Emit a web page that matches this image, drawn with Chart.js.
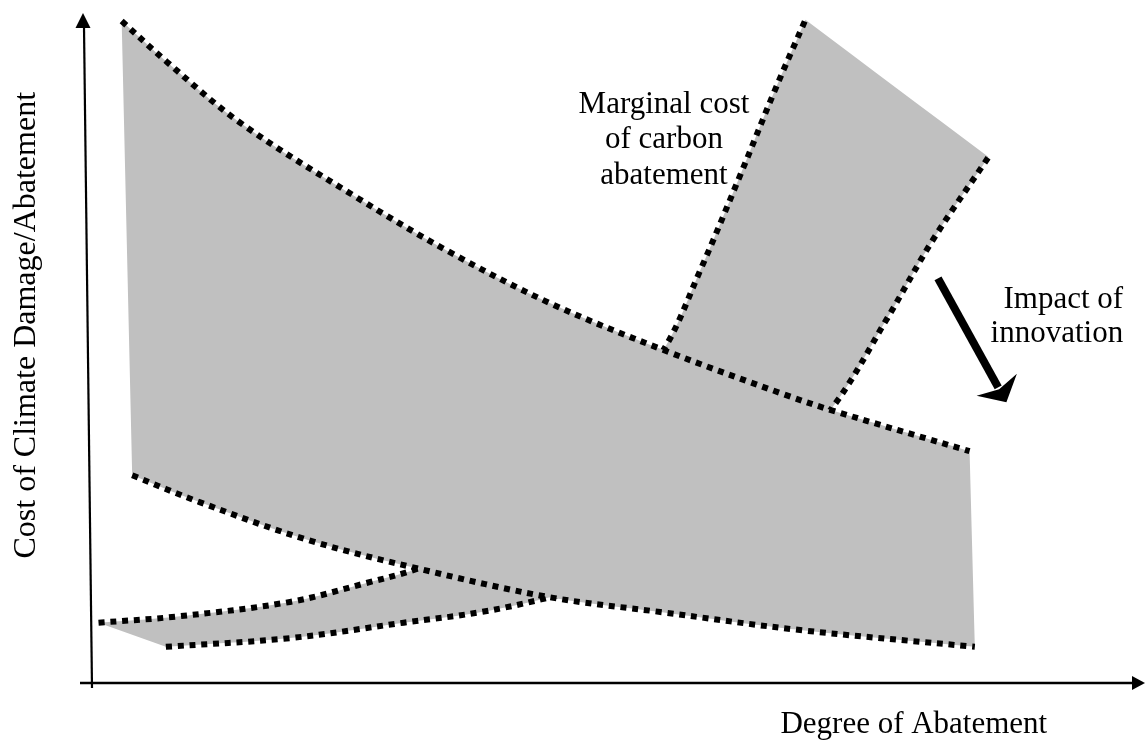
<!DOCTYPE html>
<html>
<head>
<meta charset="utf-8">
<script src="https://cdn.jsdelivr.net/npm/chart.js@4.4.1/dist/chart.umd.min.js"></script>
<style>
  html, body { margin: 0; padding: 0; background: #fff; }
  #wrap { width: 1145px; height: 740px; position: relative; }
</style>
</head>
<body>
<div id="wrap"><canvas id="myChart"></canvas></div>
<script>
// conceptual chart: degree of abatement (x) against cost (y), both in 0..100 units
let damageUpper = [[3.2, 98.8], [7.5, 92.7], [14.4, 83.7], [25.2, 72.8], [34.4, 64.3], [43.9, 56.7], [54.7, 49.7], [66.3, 43.0], [70.7, 40.7], [83.8, 34.6]];
let damageLower = [[4.2, 31.0], [10.6, 27.0], [21.0, 21.3], [31.6, 17.0], [43.9, 12.8], [54.4, 10.6], [67.7, 7.9], [84.3, 5.4]];
let abatementCost = [[1.0, 9.0], [8.3, 9.9], [19.2, 12.1], [26.4, 14.9], [31.6, 17.2], [39.2, 22.1], [46.8, 32.5], [54.7, 49.7], [58.2, 61.6], [62.0, 75.8], [65.3, 88.5], [68.2, 99.0]];
let abatementCostInnovation = [[7.4, 5.4], [19.2, 6.7], [30.0, 9.0], [37.4, 10.6], [43.9, 12.8], [53.4, 16.9], [62.9, 27.3], [70.7, 41.0], [76.0, 54.5], [80.3, 66.1], [85.6, 78.5]];
let innovationShift = [[80.8, 60.4], [87.3, 41.9]];

let xTitle = 'Degree of Abatement';
let yTitle = 'Cost of Climate Damage/Abatement';
let abatementLabel = ['Marginal cost', 'of carbon', 'abatement'];
let innovationLabel = ['Impact of', 'innovation'];

const pts = (arr) => arr.map(([x, y]) => ({x: x, y: y}));

// closed band: upper curve forward, lower curve back (ends doubled so the
// spline matches the open dotted lines)
const band = (a, b) => {
  let p = pts(a), q = pts(b).reverse();
  return p.concat([p[p.length - 1], q[0]], q);
};

const dotted = {
  borderColor: '#000',
  borderWidth: 6,
  borderDash: [6, 5.8],
  borderCapStyle: 'butt',
  fill: false,
  pointRadius: 0,
  tension: 0.35,
  showLine: true
};
const grey = {
  borderColor: 'rgba(0,0,0,0)',
  borderWidth: 0,
  backgroundColor: '#c0c0c0',
  fill: 'shape',
  pointRadius: 0,
  tension: 0.35,
  showLine: true
};

const serif = '"Liberation Serif", "Times New Roman", serif';

const sketch = {
  id: 'sketch',
  afterDraw(chart) {
    const {ctx, chartArea: a, scales: {x, y}} = chart;
    ctx.save();
    ctx.strokeStyle = '#000';
    ctx.fillStyle = '#000';

    // y axis (leans a little, as in the original drawing)
    ctx.lineWidth = 2.2;
    ctx.beginPath();
    ctx.moveTo(a.left + 4, a.bottom + 5);
    ctx.lineTo(a.left - 4, a.top + 14);
    ctx.stroke();
    ctx.beginPath();
    ctx.moveTo(a.left - 5, a.top);
    ctx.lineTo(a.left - 12.5, a.top + 15);
    ctx.lineTo(a.left + 2.5, a.top + 15);
    ctx.closePath();
    ctx.fill();

    // x axis
    ctx.lineWidth = 2.6;
    ctx.beginPath();
    ctx.moveTo(a.left - 8, a.bottom);
    ctx.lineTo(chart.width - 10, a.bottom);
    ctx.stroke();
    ctx.beginPath();
    ctx.moveTo(chart.width, a.bottom);
    ctx.lineTo(chart.width - 13, a.bottom - 7);
    ctx.lineTo(chart.width - 13, a.bottom + 7);
    ctx.closePath();
    ctx.fill();

    // impact of innovation arrow
    let sx = x.getPixelForValue(innovationShift[0][0]), sy = y.getPixelForValue(innovationShift[0][1]);
    let tx = x.getPixelForValue(innovationShift[1][0]), ty = y.getPixelForValue(innovationShift[1][1]);
    let len = Math.hypot(tx - sx, ty - sy);
    let ux = (tx - sx) / len, uy = (ty - sy) / len;
    let head = 20, half = 23;
    ctx.lineWidth = 8;
    ctx.beginPath();
    ctx.moveTo(sx, sy);
    ctx.lineTo(tx - ux * (head - 3), ty - uy * (head - 3));
    ctx.stroke();
    ctx.beginPath();
    ctx.moveTo(tx, ty);
    ctx.lineTo(tx - ux * head - uy * half, ty - uy * head + ux * half);
    ctx.lineTo(tx - ux * (head - 5), ty - uy * (head - 5));
    ctx.lineTo(tx - ux * head + uy * half, ty - uy * head - ux * half);
    ctx.closePath();
    ctx.fill();

    // labels
    ctx.font = '31px ' + serif;
    ctx.textBaseline = 'alphabetic';
    ctx.textAlign = 'center';
    abatementLabel.forEach((t, i) => {
      ctx.fillText(t, x.getPixelForValue(54.75), y.getPixelForValue(85.1) + i * 35.5);
    });
    ctx.textAlign = 'right';
    innovationLabel.forEach((t, i) => {
      ctx.fillText(t, x.getPixelForValue(98.4), y.getPixelForValue(56.0) + i * 34);
    });
    ctx.textAlign = 'center';
    ctx.fillText(xTitle, x.getPixelForValue(78.5), a.bottom + 50);

    ctx.font = '32px ' + serif;
    ctx.translate(a.left - 53, y.getPixelForValue(53.4));
    ctx.rotate(-Math.PI / 2);
    ctx.fillText(yTitle, 0, 0);
    ctx.restore();
  }
};

let ctx = document.getElementById('myChart').getContext('2d');

let myChart = new Chart(ctx, {
  type: 'scatter',
  data: {
    datasets: [
      Object.assign({}, dotted, {label: 'Marginal climate damage (high)', data: pts(damageUpper), order: 1}),
      Object.assign({}, dotted, {label: 'Marginal climate damage (low)', data: pts(damageLower), order: 1}),
      Object.assign({}, grey, {label: 'Damage range', data: band(damageUpper, damageLower), order: 2}),
      Object.assign({}, dotted, {label: 'Marginal abatement cost', data: pts(abatementCost), order: 3}),
      Object.assign({}, dotted, {label: 'Marginal abatement cost after innovation', data: pts(abatementCostInnovation), order: 3}),
      Object.assign({}, grey, {label: 'Abatement range', data: band(abatementCost, abatementCostInnovation), order: 4})
    ]
  },
  options: {
    responsive: true,
    maintainAspectRatio: false,
    animation: false,
    layout: {
      padding: {left: 88, right: 5, top: 13, bottom: 57}
    },
    scales: {
      x: {type: 'linear', min: 0, max: 100, display: false},
      y: {type: 'linear', min: 0, max: 100, display: false}
    },
    plugins: {
      legend: {display: false},
      tooltip: {enabled: false}
    }
  },
  plugins: [sketch]
});
</script>
</body>
</html>
